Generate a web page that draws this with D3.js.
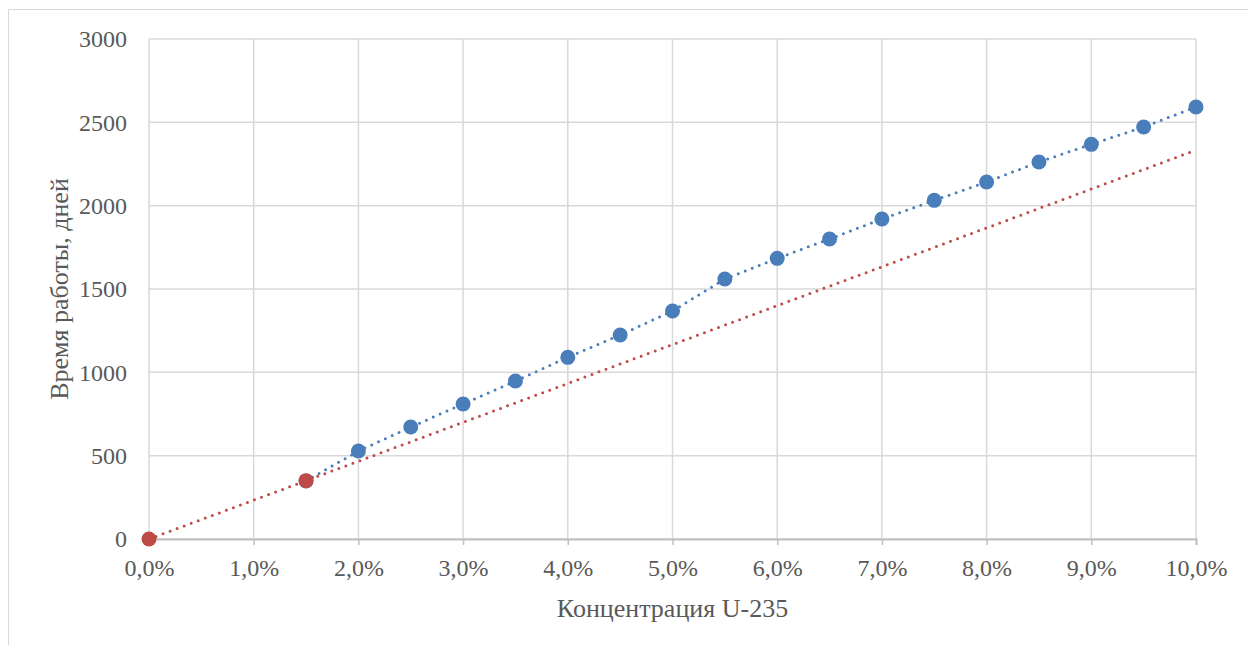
<!DOCTYPE html>
<html><head><meta charset="utf-8">
<script src="https://cdn.jsdelivr.net/npm/d3@7"></script>
<style>body{margin:0;background:#fff}svg{display:block}
text{font-family:"Liberation Serif","Times New Roman",serif}</style>
</head><body>
<svg id="c" width="1248" height="645"></svg>
<script>
const blueX = [1.5,2.0,2.5,3.0,3.5,4.0,4.5,5.0,5.5,6.0,6.5,7.0,7.5,8.0,8.5,9.0,9.5,10.0];
const blueY = [348,528,672,810,948,1090,1224,1368,1560,1684,1800,1920,2032,2142,2262,2368,2472,2592];
const redX = [0,1.5];
const redY = [0,350];
const xTicks = [0,1,2,3,4,5,6,7,8,9,10];
const yTicks = [0,500,1000,1500,2000,2500,3000];
const xTitle = "Концентрация U-235";
const yTitle = "Время работы, дней";

const svg = d3.select("#c");
const L=149, R=1196, T=39, B=539;
const x = d3.scaleLinear().domain([0,10]).range([L,R]);
const y = d3.scaleLinear().domain([0,3000]).range([B,T]);
const font = '"Liberation Serif","Times New Roman",serif';
const txt = "#595959";

svg.append("rect").attr("x",8.5).attr("y",9.5).attr("width",1260).attr("height",660)
  .attr("fill","#fff").attr("stroke","#d9d9d9").attr("stroke-width",1);

// gridlines
svg.append("g").selectAll("line").data(xTicks).join("line")
  .attr("x1",d=>x(d)).attr("x2",d=>x(d)).attr("y1",T).attr("y2",B)
  .attr("stroke","#d9d9d9").attr("stroke-width",1.5);
svg.append("g").selectAll("line").data(yTicks).join("line")
  .attr("x1",L).attr("x2",R).attr("y1",d=>y(d)).attr("y2",d=>y(d))
  .attr("stroke","#d9d9d9").attr("stroke-width",1.5);

// x axis
const xa = svg.append("g").attr("transform",`translate(0,${B})`)
  .call(d3.axisBottom(x).tickValues(xTicks).tickSize(6).tickPadding(14)
    .tickFormat(d=>d.toFixed(1).replace(".",",")+"%"));
xa.attr("font-family",null);
xa.select(".domain").attr("stroke","#bfbfbf").attr("stroke-width",2);
xa.selectAll(".tick line").attr("stroke","#bfbfbf").attr("stroke-width",1.5);
xa.selectAll("text").style("font-family",font).style("font-size","24px").attr("fill",txt);

// y axis
const ya = svg.append("g").attr("transform",`translate(${L},0)`)
  .call(d3.axisLeft(y).tickValues(yTicks).tickSize(0).tickPadding(22).tickFormat(d3.format("d")));
ya.attr("font-family",null);
ya.select(".domain").remove();
ya.selectAll("text").style("font-family",font).style("font-size","24px").attr("fill",txt);

// titles
svg.append("text").attr("x",(L+R)/2).attr("y",617).attr("text-anchor","middle")
  .style("font-family",font).style("font-size","26px").attr("fill",txt).text(xTitle);
svg.append("text").attr("transform",`translate(68,${(T+B)/2}) rotate(-90)`).attr("text-anchor","middle")
  .style("font-family",font).style("font-size","26px").attr("fill",txt).text(yTitle);

// red linear trendline (least squares) extended to 10%
function fit(xs,ys){
  const n=xs.length, mx=d3.mean(xs), my=d3.mean(ys);
  let sxy=0,sxx=0; for(let i=0;i<n;i++){sxy+=(xs[i]-mx)*(ys[i]-my);sxx+=(xs[i]-mx)**2;}
  const b=sxy/sxx, a=my-b*mx; return v=>a+b*v;
}
const fr = fit(redX,redY);
const line = d3.line().x(d=>x(d[0])).y(d=>y(d[1]));
svg.append("path").attr("d",line(blueX.map((d,i)=>[d,blueY[i]])))
  .attr("stroke","#4a7ebb").attr("stroke-width",3).attr("fill","none")
  .attr("stroke-dasharray","0 7.5").attr("stroke-linecap","round");
svg.append("path").attr("d",line([[0,fr(0)],[10,fr(10)]]))
  .attr("stroke","#be4b48").attr("stroke-width",3).attr("fill","none")
  .attr("stroke-dasharray","0 7.5").attr("stroke-linecap","round");

// points
svg.append("g").selectAll("circle").data(blueX.map((d,i)=>[d,blueY[i]])).join("circle")
  .attr("cx",d=>x(d[0])).attr("cy",d=>y(d[1])).attr("r",7.5).attr("fill","#4a7ebb");
svg.append("g").selectAll("circle").data(redX.map((d,i)=>[d,redY[i]])).join("circle")
  .attr("cx",d=>x(d[0])).attr("cy",d=>y(d[1])).attr("r",7.5).attr("fill","#be4b48");
</script>
</body></html>
